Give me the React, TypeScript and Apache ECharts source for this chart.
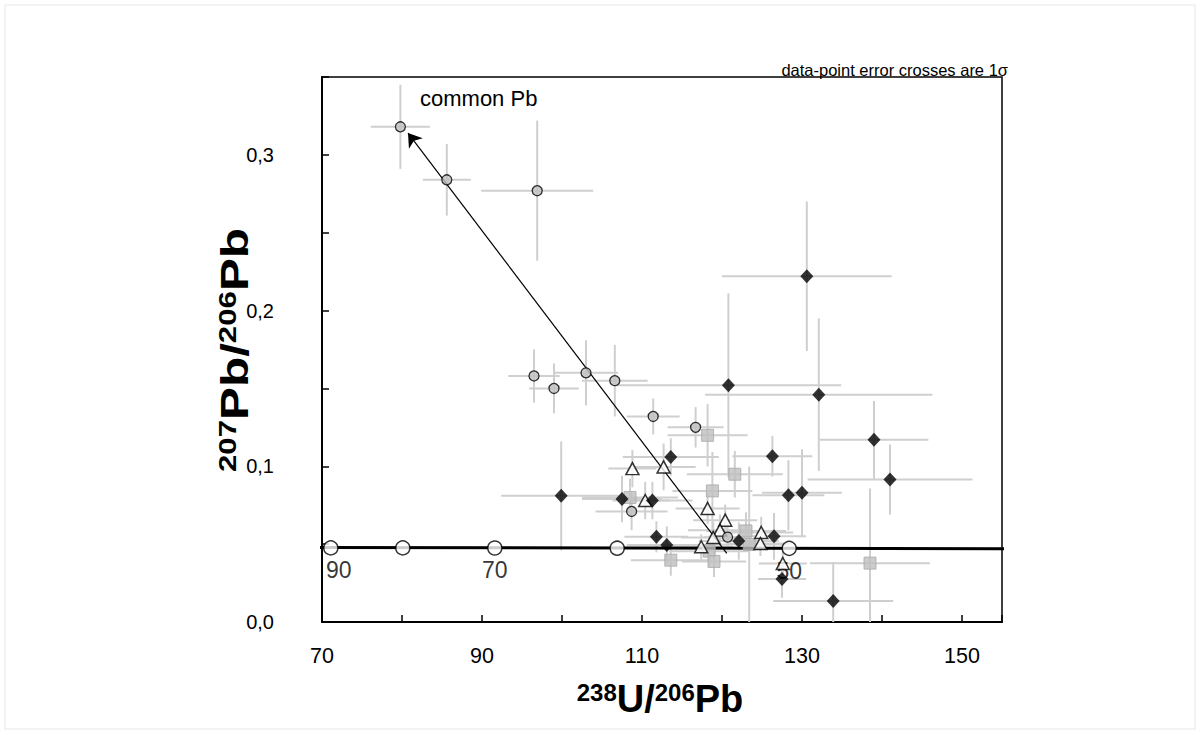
import React, { useEffect, useRef } from "react";
import * as echarts from "echarts";

// [238U/206Pb, 207Pb/206Pb, x-error (1σ), y-error (1σ)]
const commonPbCircles: number[][] = [
  [79.8, 0.318, 3.7, 0.027],
  [85.6, 0.284, 3.0, 0.023],
  [96.9, 0.277, 7.0, 0.045],
  [96.5, 0.158, 3.2, 0.017],
  [99.0, 0.150, 3.1, 0.016],
  [103.0, 0.160, 4.0, 0.021],
  [106.6, 0.155, 4.1, 0.023],
  [111.4, 0.132, 3.3, 0.0115],
  [116.7, 0.125, 3.5, 0.013],
  [108.7, 0.071, 4.5, 0.012],
  [120.7, 0.0545, 3.0, 0.008],
];

const diamonds: number[][] = [
  [130.6, 0.222, 10.6, 0.048],
  [120.8, 0.152, 14.1, 0.059],
  [132.1, 0.146, 14.2, 0.049],
  [139.0, 0.117, 6.8, 0.025],
  [141.0, 0.0915, 10.3, 0.0225],
  [126.3, 0.1064, 5.0, 0.013],
  [113.6, 0.106, 6.0, 0.012],
  [128.3, 0.0814, 4.5, 0.0225],
  [130.0, 0.083, 5.0, 0.028],
  [107.5, 0.079, 5.0, 0.015],
  [111.3, 0.078, 5.0, 0.012],
  [111.8, 0.0547, 4.0, 0.01],
  [113.1, 0.0494, 5.0, 0.012],
  [122.1, 0.052, 5.0, 0.012],
  [126.5, 0.055, 4.0, 0.015],
  [127.5, 0.0276, 3.0, 0.012],
  [99.9, 0.081, 7.5, 0.035],
  [133.9, 0.0135, 7.5, 0.025],
];

const triangles: number[][] = [
  [108.8, 0.0985, 3.0, 0.012],
  [112.7, 0.0996, 4.0, 0.015],
  [110.4, 0.078, 3.0, 0.012],
  [118.2, 0.0729, 4.0, 0.01],
  [120.4, 0.0654, 4.0, 0.01],
  [119.75, 0.059, 4.0, 0.01],
  [118.9, 0.0543, 4.0, 0.01],
  [117.4, 0.0483, 4.0, 0.008],
  [124.9, 0.0575, 4.0, 0.01],
  [124.8, 0.0504, 4.0, 0.008],
  [127.6, 0.0376, 3.0, 0.01],
];

const squares: number[][] = [
  [118.2, 0.1199, 5.0, 0.02],
  [121.6, 0.0949, 6.0, 0.015],
  [118.8, 0.0842, 5.0, 0.025],
  [108.5, 0.080, 6.0, 0.012],
  [123.0, 0.0585, 5.0, 0.012],
  [123.4, 0.0498, 5.0, 0.05],
  [118.4, 0.0455, 5.0, 0.01],
  [119.0, 0.0389, 4.0, 0.01],
  [113.6, 0.0397, 5.0, 0.01],
  [138.5, 0.0378, 7.5, 0.048],
];

// Concordia (Tera-Wasserburg) age markers, Ma
const concordiaAges = [90, 80, 70, 60, 50];
const concordiaX = [71.1, 80.1, 91.6, 106.9, 128.4];
const concordiaY = [0.0476, 0.0476, 0.0475, 0.0474, 0.0473];
const labeledAges = [90, 70, 50];
const concordiaLine: number[][] = [
  [69.3, 0.0478],
  [155.6, 0.0471],
];

// common Pb arrow
const arrowFrom = [120.6, 0.044];
const arrowTo = [80.75, 0.314];

const xMin = 70;
const xMax = 155;
const yMin = 0;
const yMax = 0.35;

const FONT = "'Liberation Sans', Arial, sans-serif";

const titleRich = {
  sup: { fontSize: 24, fontWeight: "bold", fontFamily: FONT, verticalAlign: "top", fill: "#000", color: "#000" },
  main: { fontSize: 38, fontWeight: "bold", fontFamily: FONT, fill: "#000", color: "#000" },
};

export default function App() {
  const ref = useRef<HTMLDivElement>(null);

  useEffect(() => {
    if (!ref.current) return;
    const chart = echarts.init(ref.current, undefined, { renderer: "svg" });

    const allErr = [...commonPbCircles, ...diamonds, ...triangles, ...squares];

    const option: any = {
      animation: false,
      backgroundColor: "#ffffff",
      textStyle: { fontFamily: FONT },
      grid: {
        left: 322,
        right: 199,
        top: 77,
        bottom: 113,
        show: true,
        borderColor: "#000",
        borderWidth: 1.5,
        backgroundColor: "transparent",
      },
      xAxis: {
        type: "value",
        min: xMin,
        max: xMax,
        interval: 10,
        axisLine: { show: true, lineStyle: { color: "#000", width: 2 } },
        axisTick: { show: true, inside: true, length: 7, lineStyle: { color: "#000", width: 1.5 } },
        axisLabel: {
          margin: 23,
          fontSize: 21.5,
          color: "#000",
          fontFamily: FONT,
          formatter: (v: number) => (Math.round(v - 70) % 20 === 0 ? String(Math.round(v)) : ""),
        },
        splitLine: { show: false },
      },
      yAxis: {
        type: "value",
        min: yMin,
        max: yMax,
        interval: 0.05,
        axisLine: { show: true, lineStyle: { color: "#000", width: 2 } },
        axisTick: { show: true, inside: true, length: 7, lineStyle: { color: "#000", width: 1.5 } },
        axisLabel: {
          margin: 48,
          fontSize: 20,
          color: "#000",
          fontFamily: FONT,
          formatter: (v: number) =>
            Math.round(v * 100) % 10 === 0 && v < yMax - 1e-9 ? v.toFixed(1).replace(".", ",") : "",
        },
        splitLine: { show: false },
      },
      graphic: [
        {
          type: "rect",
          shape: { x: 5, y: 5, width: 1190, height: 724 },
          style: { fill: "none", stroke: "#e6e6e6", lineWidth: 1 },
          silent: true,
          z: -10,
        },
        {
          type: "text",
          x: 1008,
          y: 78,
          style: {
            text: "data-point error crosses are 1σ",
            fontSize: 16.5,
            fontFamily: FONT,
            fill: "#000",
            textAlign: "right",
            textVerticalAlign: "bottom",
          },
        },
        {
          type: "text",
          x: 420,
          y: 98,
          style: {
            text: "common Pb",
            fontSize: 22,
            fontFamily: FONT,
            fill: "#000",
            textAlign: "left",
            textVerticalAlign: "middle",
          },
        },
        {
          type: "text",
          x: 660,
          y: 699,
          style: {
            text: "{sup|238}{main|U/}{sup|206}{main|Pb}",
            rich: titleRich,
            textAlign: "center",
            textVerticalAlign: "middle",
          },
        },
        {
          type: "text",
          x: 235,
          y: 350,
          rotation: Math.PI / 2,
          scaleX: 1.3,
          style: {
            text: "{sup|207}{main|Pb/}{sup|206}{main|Pb}",
            rich: titleRich,
            textAlign: "center",
            textVerticalAlign: "middle",
          },
        },
      ],
      series: [
        {
          type: "custom",
          name: "errors",
          clip: true,
          z: 1,
          data: allErr,
          renderItem: (params: any, api: any) => {
            const x = api.value(0);
            const y = api.value(1);
            const ex = api.value(2);
            const ey = api.value(3);
            const l = api.coord([x - ex, y]);
            const r = api.coord([x + ex, y]);
            const t = api.coord([x, y + ey]);
            const b = api.coord([x, y - ey]);
            const style = { stroke: "#cfcfcf", lineWidth: 2 };
            return {
              type: "group",
              children: [
                { type: "line", shape: { x1: l[0], y1: l[1], x2: r[0], y2: r[1] }, style },
                { type: "line", shape: { x1: t[0], y1: t[1], x2: b[0], y2: b[1] }, style },
              ],
            };
          },
        },
        {
          type: "line",
          name: "concordia",
          data: concordiaLine,
          showSymbol: false,
          symbol: "none",
          clip: false,
          lineStyle: { color: "#000", width: 3 },
          z: 2,
        },
        {
          type: "lines",
          name: "arrow",
          coordinateSystem: "cartesian2d",
          z: 3,
          symbol: ["none", "arrow"],
          symbolSize: 13,
          lineStyle: { color: "#000", width: 1.2, opacity: 1 },
          data: [{ coords: [arrowFrom, arrowTo] }],
        },
        {
          type: "scatter",
          name: "concordia ages",
          z: 4,
          symbol: "circle",
          symbolSize: 14,
          itemStyle: { color: "#fff", borderColor: "#000", borderWidth: 1.5 },
          data: concordiaAges.map((a, i) => ({
            value: [concordiaX[i], concordiaY[i]],
            label: {
              show: labeledAges.includes(a),
              formatter: String(a),
              position: "bottom",
              distance: 3,
              offset: [i === 0 ? 8 : 0, 0],
              fontSize: 23,
              fontFamily: FONT,
              color: "#000",
            },
          })),
        },
        {
          type: "scatter",
          name: "squares",
          z: 5,
          symbol: "rect",
          symbolSize: 12,
          itemStyle: { color: "#bfbfbf", borderColor: "#a9a9a9", borderWidth: 1 },
          data: squares.map((d) => [d[0], d[1]]),
        },
        {
          type: "scatter",
          name: "triangles",
          z: 6,
          symbol: "triangle",
          symbolSize: [13, 12],
          itemStyle: { color: "#fff", borderColor: "#000", borderWidth: 1.5 },
          data: triangles.map((d) => [d[0], d[1]]),
        },
        {
          type: "scatter",
          name: "diamonds",
          z: 7,
          symbol: "diamond",
          symbolSize: [13, 14],
          itemStyle: { color: "#000" },
          data: diamonds.map((d) => [d[0], d[1]]),
        },
        {
          type: "scatter",
          name: "common Pb circles",
          z: 8,
          symbol: "circle",
          symbolSize: 10,
          itemStyle: { color: "#c0c0c0", borderColor: "#000", borderWidth: 1.3 },
          data: commonPbCircles.map((d) => [d[0], d[1]]),
        },
      ],
    };

    chart.setOption(option);
    return () => chart.dispose();
  }, []);

  return (
    <div
      ref={ref}
      style={{ position: "absolute", left: 0, top: 0, width: 1201, height: 735, background: "#fff" }}
    />
  );
}
